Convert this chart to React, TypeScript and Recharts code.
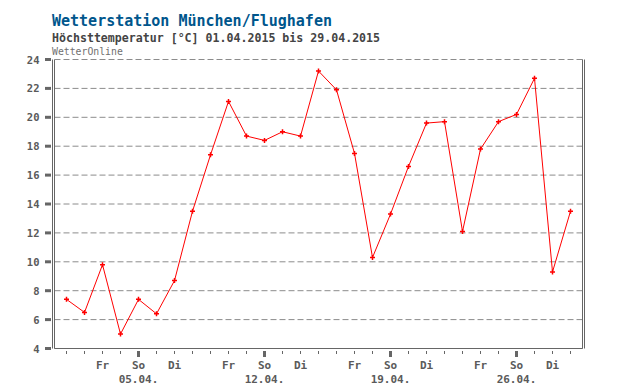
import { LineChart, Line, XAxis, YAxis, CartesianGrid } from "recharts";

const DAYS = [1, 2, 3, 4, 5, 6, 7, 8, 9, 10, 11, 12, 13, 14, 15, 16, 17, 18, 19, 20, 21, 22, 23, 24, 25, 26, 27, 28, 29];
const TEMPS = [7.4, 6.5, 9.8, 5.0, 7.4, 6.4, 8.7, 13.5, 17.4, 21.1, 18.7, 18.4, 19.0, 18.7, 23.2, 21.9, 17.5, 10.3, 13.3, 16.6, 19.6, 19.7, 12.1, 17.8, 19.7, 20.2, 22.7, 9.3, 13.5];
const Y_TICKS = [4, 6, 8, 10, 12, 14, 16, 18, 20, 22, 24];
const WEEKDAY_DAYS = [3, 5, 7, 10, 12, 14, 17, 19, 21, 24, 26, 28];
const WEEKDAY_NAMES = ["Fr", "So", "Di", "Fr", "So", "Di", "Fr", "So", "Di", "Fr", "So", "Di"];
const SUNDAYS = [5, 12, 19, 26];
const SUNDAY_DATES = ["05.04.", "12.04.", "19.04.", "26.04."];

const data = DAYS.map((day, i) => ({ day, temp: TEMPS[i] }));

const MONO = "'DejaVu Sans Mono', monospace";
const AXIS = "#666666";
const LABEL = "#5a5a5a";

function PlusDot({ cx, cy }: any) {
    if (cx == null || cy == null) return null;
    return (
        <path
            d={`M${cx - 2.5},${cy}H${cx + 2.5}M${cx},${cy - 2.5}V${cy + 2.5}`}
            stroke="#ff0000"
            strokeWidth={1.5}
            fill="none"
        />
    );
}

function LeftTick({ x, y, payload }: any) {
    return (
        <g>
            <rect x={x - 7.5} y={y - 1.5} width={6} height={3} fill={AXIS} />
            <text x={x - 13} y={y + 4} textAnchor="end" fontFamily={MONO} fontWeight="bold" fontSize={10.5} fill={LABEL}>
                {payload.value}
            </text>
        </g>
    );
}

function RightTick({ x, y, payload }: any) {
    return (
        <g>
            <rect x={x + 0.5} y={y - 1.5} width={6} height={3} fill={AXIS} />
            <text x={x + 12} y={y + 4} textAnchor="start" fontFamily={MONO} fontWeight="bold" fontSize={10.5} fill={LABEL}>
                {payload.value}
            </text>
        </g>
    );
}

function DayTick({ x, y, payload }: any) {
    const day = payload.value;
    const sIdx = SUNDAYS.indexOf(day);
    const wIdx = WEEKDAY_DAYS.indexOf(day);
    return (
        <g>
            {sIdx >= 0 ? (
                <rect x={x - 1.5} y={y + 2.5} width={3} height={6} fill={AXIS} />
            ) : (
                <rect x={x - 0.5} y={y + 2.5} width={1} height={3} fill={AXIS} />
            )}
            {wIdx >= 0 && (
                <text x={x} y={y + 20.5} textAnchor="middle" fontFamily={MONO} fontWeight="bold" fontSize={11} fill={LABEL}>
                    {WEEKDAY_NAMES[wIdx]}
                </text>
            )}
            {sIdx >= 0 && (
                <text x={x} y={y + 34.5} textAnchor="middle" fontFamily={MONO} fontWeight="bold" fontSize={11} fill={LABEL}>
                    {SUNDAY_DATES[sIdx]}
                </text>
            )}
        </g>
    );
}

export default function App() {
    return (
        <div style={{ position: "absolute", left: 0, top: 0, width: 640, height: 390, background: "#fff" }}>
            <LineChart
                width={640}
                height={390}
                data={data}
                margin={{ top: 59.5, right: 11.5, bottom: 1.5, left: 8.5 }}
            >
                <CartesianGrid
                    yAxisId="lt"
                    vertical={false}
                    stroke="#8c8c8c"
                    strokeDasharray="6 3"
                />
                <XAxis
                    dataKey="day"
                    type="number"
                    domain={[1 - 2 / 3, 29 + 2 / 3]}
                    allowDataOverflow
                    ticks={DAYS}
                    interval={0}
                    height={40}
                    tickSize={0}
                    tickMargin={0}
                    tickLine={false}
                    axisLine={{ stroke: AXIS, strokeWidth: 1 }}
                    tick={<DayTick />}
                />
                <YAxis
                    yAxisId="li"
                    orientation="left"
                    domain={[4, 24]}
                    ticks={Y_TICKS}
                    width={2}
                    tick={false}
                    tickLine={false}
                    axisLine={{ stroke: AXIS, strokeWidth: 1 }}
                />
                <YAxis
                    yAxisId="lt"
                    orientation="left"
                    domain={[4, 24]}
                    ticks={Y_TICKS}
                    interval={0}
                    width={44}
                    tickSize={0}
                    tickMargin={0}
                    tickLine={false}
                    axisLine={{ stroke: AXIS, strokeWidth: 1 }}
                    tick={<LeftTick />}
                />
                <YAxis
                    yAxisId="ri"
                    orientation="right"
                    domain={[4, 24]}
                    ticks={Y_TICKS}
                    width={2}
                    tick={false}
                    tickLine={false}
                    axisLine={{ stroke: AXIS, strokeWidth: 1 }}
                />
                <YAxis
                    yAxisId="rt"
                    orientation="right"
                    domain={[4, 24]}
                    ticks={Y_TICKS}
                    interval={0}
                    width={44}
                    tickSize={0}
                    tickMargin={0}
                    tickLine={false}
                    axisLine={{ stroke: AXIS, strokeWidth: 1 }}
                    tick={<RightTick />}
                />
                <Line
                    yAxisId="lt"
                    type="linear"
                    dataKey="temp"
                    stroke="#ff0000"
                    strokeWidth={1}
                    dot={<PlusDot />}
                    activeDot={false}
                    isAnimationActive={false}
                />
            </LineChart>
            <svg width={640} height={60} style={{ position: "absolute", left: 0, top: 0, pointerEvents: "none" }}>
                <text x={52} y={25.5} fontFamily={MONO} fontWeight="bold" fontSize={15} fill="#00568c">
                    Wetterstation München/Flughafen
                </text>
                <text x={52} y={41.5} fontFamily={MONO} fontWeight="bold" fontSize={11.6} fill="#444444">
                    Höchsttemperatur [°C] 01.04.2015 bis 29.04.2015
                </text>
                <text x={52} y={55} fontFamily={MONO} fontSize={9.8} fill="#707070">
                    WetterOnline
                </text>
            </svg>
        </div>
    );
}
